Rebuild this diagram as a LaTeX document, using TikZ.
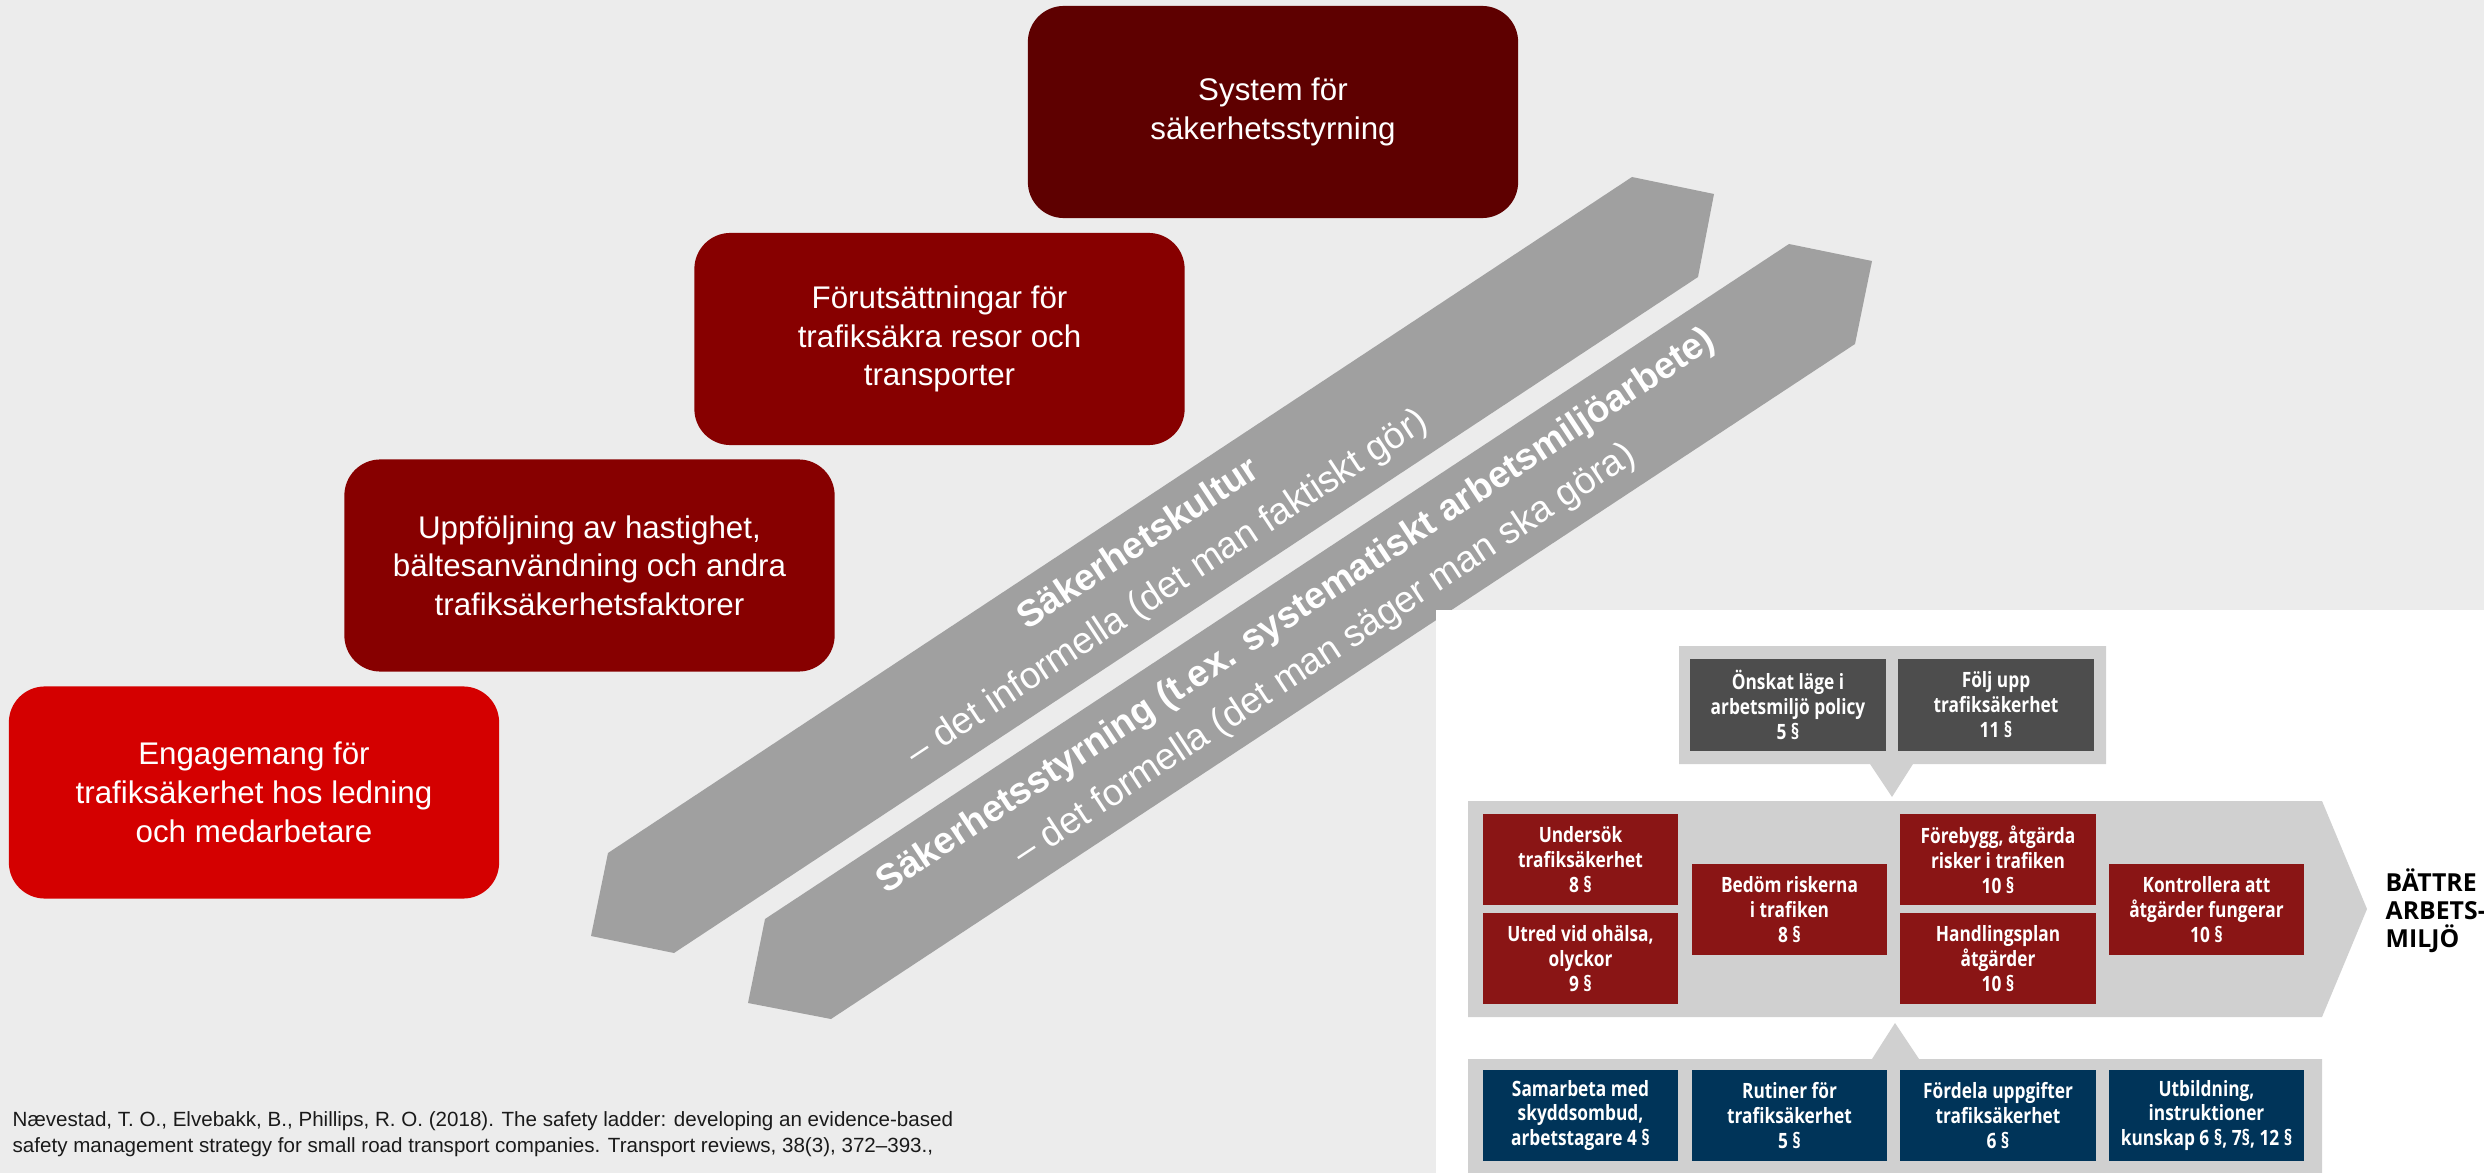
\documentclass[tikz,border=0pt]{standalone}
\usepackage{fontspec}
\setmainfont{Liberation Sans}
\newfontfamily\condfont[FakeStretch=0.82]{Open Sans}
\newfontfamily\opensansfont{Open Sans}
\definecolor{bgcol}{HTML}{ECECEC}
\definecolor{arrowgray}{HTML}{A0A0A0}
\definecolor{ladderA}{HTML}{D40000}
\definecolor{ladderB}{HTML}{870000}
\definecolor{ladderD}{HTML}{5E0000}
\definecolor{panelgray}{HTML}{D0D0D0}
\definecolor{boxred}{HTML}{8A1515}
\definecolor{boxgray}{HTML}{4D4D4D}
\definecolor{boxblue}{HTML}{003459}
\definecolor{citecol}{HTML}{1A1A1A}
\begin{document}
\begin{tikzpicture}[x=0.01cm,y=-0.01cm,
  ladder/.style={rounded corners=0.36cm, minimum width=4.9cm, minimum height=2.12cm,
    inner sep=0pt, text=white, align=center, font=\fontsize{8.9pt}{11pt}\selectfont},
  sbox/.style={minimum width=1.95cm, minimum height=0.91cm, inner sep=0pt, text=white,
    align=center, font=\condfont\bfseries\fontsize{6pt}{7.1pt}\selectfont},
  redbox/.style={sbox, fill=boxred},
  graybox/.style={sbox, fill=boxgray},
  bluebox/.style={sbox, fill=boxblue},
  arrowtext/.style={text=white, align=center, rotate=33.45, inner sep=0pt,
    font=\fontsize{10.6pt}{14.8pt}\selectfont},
  bandshape/.style={fill=arrowgray},
  panelshape/.style={fill=panelgray}]
% background
\fill[bgcol] (0,0) rectangle (2484,1173);
\useasboundingbox (0,0) rectangle (2484,1173);

% diagonal bands
\fill[bandshape] (608,853) -- (1632,177) -- (1714,194) -- (1698,277) -- (674,953) -- (591,936) -- cycle;
\fill[bandshape] (765,919) -- (1789,244) -- (1872,261) -- (1855,344) -- (831,1019) -- (748,1003) -- cycle;
\node[arrowtext] (kultur) at (1153.6,566.7) {\textbf{Säkerhetskultur}\\– det informella (det man faktiskt gör)};
\node[arrowtext] (styrning) at (1311,633.7) {\textbf{Säkerhetsstyrning (t.ex. systematiskt arbetsmiljöarbete)}\\– det formella (det man säger man ska göra)};

% ladder boxes
\node[ladder, fill=ladderA] (eng) at (254,792.5) {Engagemang för\\trafiksäkerhet hos ledning\\och medarbetare};
\node[ladder, fill=ladderB] (upp) at (589.5,565.5) {Uppföljning av hastighet,\\bältesanvändning och andra\\trafiksäkerhetsfaktorer};
\node[ladder, fill=ladderB] (forut) at (939.5,339) {Förutsättningar för\\trafiksäkra resor och\\transporter};
\node[ladder, fill=ladderD] (sys) at (1273,112) {System för\\säkerhetsstyrning};

% citation
\node[anchor=west, inner sep=0pt, align=left, text=citecol,
  font=\fontsize{5.85pt}{7.4pt}\selectfont] (cite) at (12,1134)
  {Nævestad, T. O., Elvebakk, B., Phillips, R. O. (2018). The safety ladder: developing an evidence-based\\safety management strategy for small road transport companies. Transport reviews, 38(3), 372–393.,};

% right panel
\fill[white] (1436,610) rectangle (2484,1173);
\fill[panelshape] (1679,646) -- (2106,646) -- (2106,764) -- (1913,764) -- (1892,797) -- (1870,764) -- (1679,764) -- cycle;
\fill[panelshape] (1468,801) -- (2322,801) -- (2367,909) -- (2322,1017) -- (1468,1017) -- cycle;
\fill[panelshape] (1468,1059) -- (1872,1059) -- (1895,1023) -- (1919,1059) -- (2322,1059) -- (2322,1173) -- (1468,1173) -- cycle;

\node[graybox] (onskat) at (1788,705) {Önskat läge i\\arbetsmiljö policy\\5 §};
\node[graybox] (folj) at (1996,705) {Följ upp\\trafiksäkerhet\\11 §};

\node[redbox] (undersok) at (1580.5,859.5) {Undersök\\trafiksäkerhet\\8 §};
\node[redbox] (utred) at (1580.5,958.5) {Utred vid ohälsa,\\olyckor\\9 §};
\node[redbox] (bedom) at (1789.5,909.5) {Bedöm riskerna\\i trafiken\\8 §};
\node[redbox] (forebygg) at (1998,859.5) {Förebygg, åtgärda\\risker i trafiken\\10 §};
\node[redbox] (handling) at (1998,958.5) {Handlingsplan\\åtgärder\\10 §};
\node[redbox] (kontroll) at (2206.5,909.5) {Kontrollera att\\åtgärder fungerar\\10 §};

\node[bluebox] (samarbeta) at (1580.5,1115.5) {Samarbeta med\\skyddsombud,\\arbetstagare 4 §};
\node[bluebox] (rutiner) at (1789.5,1115.5) {Rutiner för\\trafiksäkerhet\\5 §};
\node[bluebox] (fordela) at (1998,1115.5) {Fördela uppgifter\\trafiksäkerhet\\6 §};
\node[bluebox] (utbildning) at (2206.5,1115.5) {Utbildning,\\instruktioner\\kunskap 6 §, 7§, 12 §};

\node[anchor=west, inner sep=0pt, align=left, text=black,
  font=\opensansfont\bfseries\fontsize{7.05pt}{8pt}\selectfont] (battre) at (2385,911)
  {BÄTTRE\\ARBETS-\\MILJÖ};
\end{tikzpicture}
\end{document}
